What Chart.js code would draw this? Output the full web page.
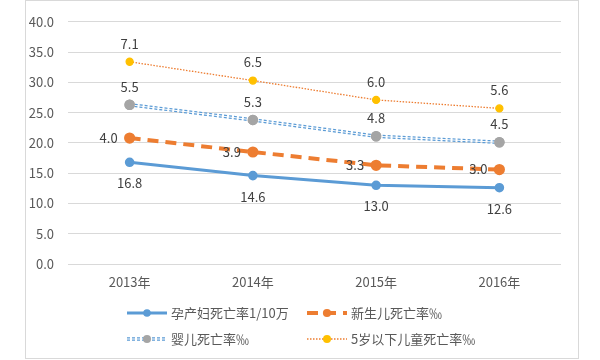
<!DOCTYPE html>
<html>
<head>
<meta charset="utf-8">
<script src="https://cdn.jsdelivr.net/npm/chart.js@4.4.0/dist/chart.umd.min.js"></script>
<style>
html,body{margin:0;padding:0;background:#fff;}
</style>
</head>
<body>
<canvas id="myChart" width="600" height="360"></canvas>
<script>
const anios=['2013年','2014年','2015年','2016年'];
const maternas=[16.8,14.6,13.0,12.6];
const neonatal=[4.0,3.9,3.3,3.0];
const infantil=[5.5,5.3,4.8,4.5];
const menores5=[7.1,6.5,6.0,5.6];
const nombres=['孕产妇死亡率1/10万','新生儿死亡率‰','婴儿死亡率‰','5岁以下儿童死亡率‰'];

const fuente='"Noto Sans CJK SC", "Noto Sans", sans-serif';
const azul='#5B9BD5', naranja='#ED7D31', gris='#A5A5A5', amarillo='#FFC000';

// marco gris alrededor del grafico
const marco={
    id:'marco',
    beforeDraw(chart){
        const ctx=chart.ctx;
        ctx.save();
        ctx.strokeStyle='#d9d9d9';
        ctx.lineWidth=1;
        ctx.strokeRect(25.5,0.5,553,358);
        ctx.restore();
    }
};

// linea doble para la serie de bebes
const lineaDoble={
    id:'lineaDoble',
    afterDatasetDraw(chart,args){
        if(args.index!==2) return;
        const ctx=chart.ctx;
        const pts=args.meta.data;
        ctx.save();
        ctx.strokeStyle='#fff';
        ctx.lineWidth=1;
        ctx.beginPath();
        pts.forEach((p,j)=>{ if(j) ctx.lineTo(p.x,p.y); else ctx.moveTo(p.x,p.y); });
        ctx.stroke();
        pts.forEach(p=>p.draw(ctx));
        ctx.restore();
    }
};

// etiquetas de valores
const etiquetas={
    id:'etiquetas',
    afterDatasetsDraw(chart){
        const ctx=chart.ctx;
        ctx.save();
        ctx.font='13px '+fuente;
        ctx.fillStyle='#404040';
        ctx.textBaseline='middle';
        chart.data.datasets.forEach((ds,i)=>{
            const meta=chart.getDatasetMeta(i);
            meta.data.forEach((p,j)=>{
                const txt=ds.data[j].toFixed(1);
                let x=p.x, y=p.y;
                if(i===0){ y+=21; ctx.textAlign='center'; }
                else if(i===1){ x-=12; ctx.textAlign='right'; }
                else { y-=18; ctx.textAlign='center'; }
                ctx.fillText(txt,x,y);
            });
        });
        ctx.restore();
    }
};

// leyenda en dos columnas
const leyenda={
    id:'leyenda',
    afterDraw(chart){
        const ctx=chart.ctx;
        const items=[
            {x:127,y:313},{x:307,y:313},{x:127,y:339},{x:307,y:339}
        ];
        chart.data.datasets.forEach((ds,i)=>{
            const it=items[i];
            ctx.save();
            ctx.strokeStyle=ds.borderColor;
            ctx.lineWidth=ds.borderWidth;
            ctx.setLineDash(ds.borderDash||[]);
            ctx.beginPath();
            ctx.moveTo(it.x,it.y);
            ctx.lineTo(it.x+40,it.y);
            ctx.stroke();
            if(i===2){
                ctx.setLineDash([]);
                ctx.strokeStyle='#fff';
                ctx.lineWidth=1;
                ctx.beginPath();
                ctx.moveTo(it.x,it.y);
                ctx.lineTo(it.x+40,it.y);
                ctx.stroke();
            }
            ctx.setLineDash([]);
            ctx.fillStyle=ds.pointBackgroundColor;
            ctx.beginPath();
            ctx.arc(it.x+20,it.y,ds.pointRadius+0.5,0,Math.PI*2);
            ctx.fill();
            ctx.fillStyle='#595959';
            ctx.font='13px '+fuente;
            ctx.textAlign='left';
            ctx.textBaseline='middle';
            ctx.fillText(nombres[i],it.x+44,it.y);
            ctx.restore();
        });
    }
};

const data={
    labels:anios,
    datasets:[
        {
            label:nombres[0],
            data:maternas,
            borderColor:azul,
            borderWidth:3,
            pointBackgroundColor:azul,
            pointBorderColor:azul,
            pointRadius:3.3,
            fill:false
        },
        {
            label:nombres[1],
            data:neonatal,
            borderColor:naranja,
            borderWidth:4,
            borderDash:[11,7],
            pointBackgroundColor:naranja,
            pointBorderColor:naranja,
            pointRadius:3.6,
            fill:false
        },
        {
            label:nombres[2],
            data:infantil,
            borderColor:azul,
            borderWidth:3.5,
            borderDash:[3,2],
            pointBackgroundColor:gris,
            pointBorderColor:gris,
            pointRadius:3.5,
            fill:false
        },
        {
            label:nombres[3],
            data:menores5,
            borderColor:naranja,
            borderWidth:1.3,
            borderDash:[1.5,1.5],
            pointBackgroundColor:amarillo,
            pointBorderColor:amarillo,
            pointRadius:3.5,
            fill:false
        }
    ]
};

const config={
    type:'line',
    data,
    plugins:[marco,lineaDoble,etiquetas,leyenda],
    options:{
        responsive:false,
        animation:false,
        layout:{padding:{left:25,right:39,top:17,bottom:0}},
        plugins:{
            legend:{display:false},
            tooltip:{enabled:false}
        },
        scales:{
            x:{
                offset:true,
                grid:{display:false},
                border:{display:false},
                ticks:{color:'#595959',font:{family:fuente,size:13},padding:2},
                afterFit(s){ s.height=96; }
            },
            y:{
                stacked:true,
                min:0,
                max:40,
                grid:{color:'#d9d9d9',drawTicks:false},
                border:{display:false},
                ticks:{
                    stepSize:5,
                    color:'#595959',
                    font:{family:fuente,size:13},
                    padding:14,
                    callback:(v)=>v.toFixed(1)
                },
                afterFit(s){ s.width=43; }
            }
        }
    }
};

const ctx=document.getElementById('myChart');
const myChart=new Chart(ctx,config);
</script>
</body>
</html>
